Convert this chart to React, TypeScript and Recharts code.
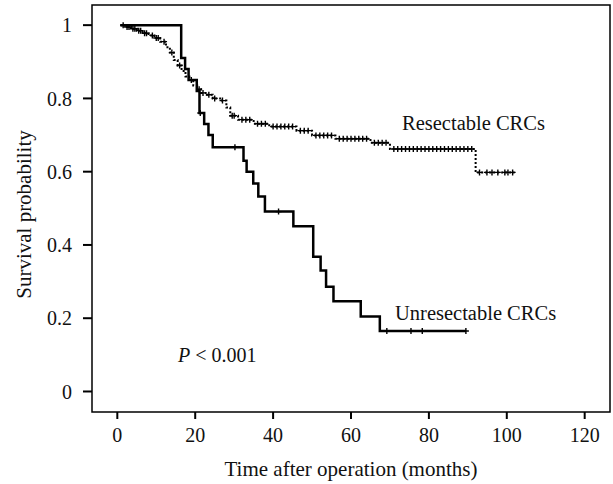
import {
  ComposedChart,
  Line,
  Scatter,
  XAxis,
  YAxis,
  ReferenceArea,
  ReferenceDot,
} from "recharts";

// Kaplan–Meier steps (time in months, survival probability)
const resTime = [0.8, 2, 3.5, 5, 6.5, 8, 9.5, 11, 12.5, 13.5, 14.5, 15.5, 16.5, 17.5, 18.5, 19.5, 20.5, 21.5, 23, 24.5, 26.4, 28, 29, 31, 35, 39, 46, 50, 56, 65, 70, 92, 102];
const resSurv = [1, 0.995, 0.99, 0.985, 0.978, 0.972, 0.965, 0.955, 0.94, 0.925, 0.905, 0.89, 0.875, 0.86, 0.85, 0.835, 0.825, 0.815, 0.81, 0.8, 0.794, 0.775, 0.753, 0.742, 0.731, 0.723, 0.712, 0.699, 0.69, 0.679, 0.662, 0.598, 0.598];
const resCensor = [1.5, 2.5, 3, 4, 4.5, 5.5, 6, 7, 7.5, 9, 10, 10.5, 12, 14, 16, 19, 21, 22, 23.5, 25, 27, 29.5, 30, 32, 33, 34, 36, 37, 38, 40, 41, 42, 43, 44, 45, 47, 48, 49, 51, 52, 53, 54, 55, 57, 58, 59, 60, 61, 62, 63, 64, 66, 67, 68, 69, 71, 72, 73, 74, 75, 76, 77, 78, 79, 80, 81, 82, 83, 84, 85, 86, 87, 88, 89, 90, 91, 93, 94.9, 96.2, 97.7, 99.5, 100.3, 101.5];

const unresTime = [0.8, 16.4, 17.4, 18.3, 20.4, 21.1, 22.3, 23.4, 24.5, 32.4, 33.2, 34.9, 36.2, 37.9, 45.2, 50.3, 52.2, 53.6, 55.5, 62.5, 67.4, 89.5];
const unresSurv = [1, 0.91, 0.88, 0.85, 0.82, 0.76, 0.73, 0.7, 0.667, 0.63, 0.6, 0.568, 0.532, 0.491, 0.451, 0.368, 0.33, 0.286, 0.246, 0.205, 0.165, 0.165];
const unresCensor = [21.3, 30.2, 41.4, 69.2, 75.4, 78.3, 89.5];

const xTicks = [0, 20, 40, 60, 80, 100, 120];
const yTicks = [0, 0.2, 0.4, 0.6, 0.8, 1];

const FONT = "'Liberation Serif', 'Times New Roman', serif";

// censored observations sit on the curve at the current step value
function stepAt(times: number[], surv: number[], t: number) {
  let s = surv[0];
  for (let i = 0; i < times.length; i++) if (times[i] <= t) s = surv[i];
  return s;
}

const resData = resTime.map((t, i) => ({ t, s: resSurv[i] }));
const unresData = unresTime.map((t, i) => ({ t, s: unresSurv[i] }));
const resMarks = resCensor.map((t) => ({ t, s: stepAt(resTime, resSurv, t) }));
const unresMarks = unresCensor.map((t) => ({ t, s: stepAt(unresTime, unresSurv, t) }));

const Plus = (props: any) => {
  const { cx, cy } = props;
  if (cx == null || cy == null) return null;
  return <path d={`M${cx - 3},${cy}h6M${cx},${cy - 3}v6`} stroke="#000" strokeWidth={1.4} fill="none" />;
};

export default function App() {
  return (
    <div style={{ position: "absolute", left: 0, top: 0, background: "#fff" }}>
      <ComposedChart
        width={613}
        height={484}
        margin={{ top: 5, right: 3, bottom: 0, left: 0 }}
        style={{ fontFamily: FONT }}
      >
        <XAxis
          dataKey="t"
          type="number"
          domain={[-6.5, 126.5]}
          ticks={xTicks}
          allowDataOverflow
          height={72}
          axisLine={false}
          tickSize={7}
          tickMargin={9}
          tickLine={{ stroke: "#000", strokeWidth: 2 }}
          tick={{ fill: "#111", fontSize: 20, fontFamily: FONT }}
          label={{
            value: "Time after operation (months)",
            position: "insideBottom",
            offset: 8,
            style: { fill: "#111", fontSize: 21, fontFamily: FONT },
          }}
        />
        <YAxis
          dataKey="s"
          type="number"
          domain={[-0.056, 1.055]}
          ticks={yTicks}
          allowDataOverflow
          width={92}
          axisLine={false}
          tickSize={9}
          tickMargin={11}
          tickLine={{ stroke: "#000", strokeWidth: 2 }}
          tickFormatter={(v: number) => String(v)}
          tick={{ fill: "#111", fontSize: 20, fontFamily: FONT }}
          label={{
            value: "Survival probability",
            angle: -90,
            position: "insideLeft",
            offset: 24,
            dy: 6,
            style: { textAnchor: "middle", fill: "#111", fontSize: 21, fontFamily: FONT },
          }}
        />
        <ReferenceArea
          x1={-6.5}
          x2={126.5}
          y1={-0.056}
          y2={1.055}
          fill="none"
          stroke="#000"
          strokeWidth={1.5}
          ifOverflow="visible"
        />
        <Line
          data={resData}
          dataKey="s"
          type="stepAfter"
          stroke="#000"
          strokeWidth={2}
          strokeDasharray="2 2"
          dot={false}
          isAnimationActive={false}
        />
        <Line
          data={unresData}
          dataKey="s"
          type="stepAfter"
          stroke="#000"
          strokeWidth={2.5}
          dot={false}
          isAnimationActive={false}
        />
        <Scatter data={resMarks} dataKey="s" shape={Plus} isAnimationActive={false} />
        <Scatter data={unresMarks} dataKey="s" shape={Plus} isAnimationActive={false} />
        <ReferenceDot
          x={73.1}
          y={0.734}
          r={0}
          ifOverflow="visible"
          label={{ value: "Resectable CRCs", position: "right", offset: 0, style: { fill: "#111", fontSize: 20.5, fontFamily: FONT } }}
        />
        <ReferenceDot
          x={71.3}
          y={0.216}
          r={0}
          ifOverflow="visible"
          label={{ value: "Unresectable CRCs", position: "right", offset: 0, style: { fill: "#111", fontSize: 20.5, fontFamily: FONT } }}
        />
        <ReferenceDot
          x={15.6}
          y={0.1}
          r={0}
          ifOverflow="visible"
          label={(p: any) => {
            const vb = p.viewBox || {};
            const x = (vb.x ?? 0) + (vb.width ?? 0) / 2;
            const y = (vb.y ?? 0) + (vb.height ?? 0) / 2;
            return (
              <text x={x} y={y} dy="0.35em" fill="#111" fontSize={20} fontFamily={FONT}>
                <tspan fontStyle="italic">P</tspan>
                <tspan> &lt; 0.001</tspan>
              </text>
            );
          }}
        />
      </ComposedChart>
    </div>
  );
}
